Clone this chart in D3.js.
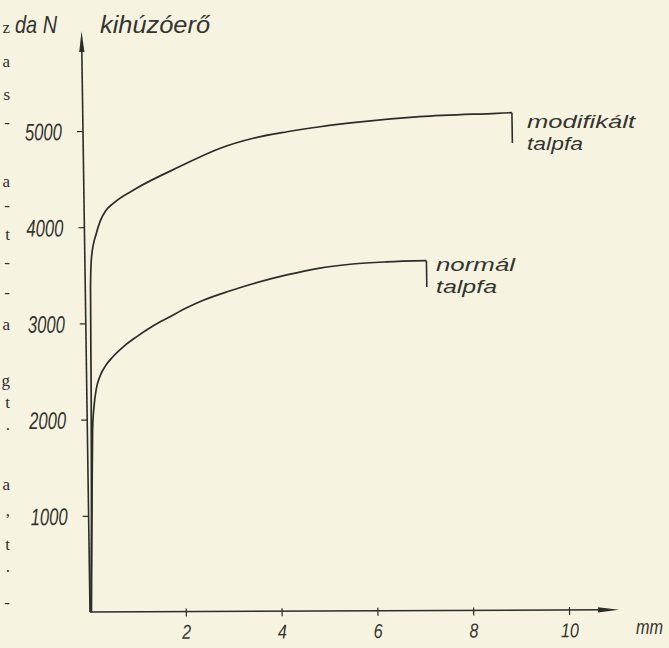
<!DOCTYPE html>
<html>
<head>
<meta charset="utf-8">
<script src="https://cdn.jsdelivr.net/npm/d3@7"></script>
<style>
html,body{margin:0;padding:0;background:#f6f4e0;}
svg{display:block;}
.lab{font-family:"Liberation Sans Narrow","Liberation Sans",Arial,sans-serif;font-style:italic;fill:#34342f;}
.frag{font-family:"Liberation Serif","DejaVu Serif",serif;fill:#2f2f2b;}
</style>
</head>
<body>
<svg id="chart" width="669" height="648"></svg>
<script>
// kihúzóerő (daN) - elmozdulás (mm), két talpfa-változat
const modX=[0.02,0.06,0.09,0.11,0.14,0.25,0.33,0.45,0.61,1.10,2.01,2.86,3.55,4.26,4.95,5.64,7.03,8.64,8.96]
const modY=[0,1000,2200,3380,3690,3940,4060,4170,4247,4402,4626,4815,4917,4983,5034,5075,5134,5166,5172]
const modEnd=4857 // vertical end mark
const normX=[0.03,0.07,0.11,0.15,0.20,0.28,0.40,0.56,0.80,1.06,1.40,1.76,2.10,2.46,3.01,3.50,4.21,4.90,5.59,6.29,7.13]
const normY=[0,1000,1892,2150,2320,2450,2560,2655,2765,2860,2970,3065,3155,3235,3330,3405,3495,3565,3606,3626,3637]
const normEnd=3364
const yTicks=[1000,2000,3000,4000,5000]
const xTicks=[2,4,6,8,10]
const modLabel=["modifikált","talpfa"]
const normLabel=["normál","talpfa"]
const yTitle=["da N","kihúzóerő"]
const xTitle="mm"
// cut-off letters of the book text on the left margin
const fragText=["z","a","s","-","a","-","t","-","-","a","g","t",".","a",",","t",".","-"]
const fragY=[33,67,100,128,187,211,240,268,298,330,386,408,430,490,516,550,572,608]

const ink="#2c2c28"
const svg=d3.select("#chart")

const x=d3.scaleLinear().domain([0,10]).range([0,479])
const y=d3.scaleLinear().domain([0,5000]).range([0,-481])

// the scan is slightly skewed: y axis leans left, x axis rises a little
const g=svg.append("g").attr("transform","matrix(1,-0.0042,0.0146,1,90,612)")

// axes
const yAx=g.append("g").call(d3.axisLeft(y).tickValues(yTicks).tickSize(6).tickPadding(15).tickFormat(d3.format("d")))
yAx.select(".domain").remove()
yAx.selectAll("line").attr("stroke",ink).attr("stroke-width",1.2)
yAx.selectAll("text").attr("class","lab").attr("font-size",24)
  .attr("textLength",37).attr("lengthAdjust","spacingAndGlyphs").attr("dy","0.36em")

const xAx=g.append("g").call(d3.axisBottom(x).tickValues(xTicks).tickSize(5).tickPadding(8))
xAx.select(".domain").remove()
xAx.selectAll("line").attr("y1",-3).attr("stroke",ink).attr("stroke-width",1.2)
xAx.selectAll("text").attr("class","lab").attr("font-size",20)
  .attr("textLength",d=>String(d).length*9).attr("lengthAdjust","spacingAndGlyphs")

g.append("line").attr("x1",0).attr("y1",0).attr("x2",0).attr("y2",-566)
  .attr("stroke",ink).attr("stroke-width",1.6)
g.append("path").attr("d","M0,-581L-2.6,-560L2.6,-560Z").attr("fill",ink)
g.append("line").attr("x1",0).attr("y1",0).attr("x2",514).attr("y2",0)
  .attr("stroke",ink).attr("stroke-width",1.5)
g.append("path").attr("d","M529,0L508,-2.6L508,2.6Z").attr("fill",ink)

// curves
const line=d3.line().x(d=>x(d[0])).y(d=>y(d[1])).curve(d3.curveMonotoneX)
const series=[
  {xs:modX,ys:modY,end:modEnd},
  {xs:normX,ys:normY,end:normEnd}
]
series.forEach(s=>{
  const pts=s.xs.map((v,i)=>[v,s.ys[i]])
  g.append("path").attr("d",line(pts)).attr("fill","none")
    .attr("stroke",ink).attr("stroke-width",1.7).attr("stroke-linejoin","round")
  const last=pts[pts.length-1]
  g.append("line").attr("x1",x(last[0])).attr("y1",y(last[1]))
    .attr("x2",x(last[0])).attr("y2",y(s.end))
    .attr("stroke",ink).attr("stroke-width",1.6)
})

// labels
const txt=(t,px,py,size,len)=>svg.append("text").attr("class","lab").attr("x",px).attr("y",py)
  .attr("font-size",size).attr("textLength",len).attr("lengthAdjust","spacingAndGlyphs").text(t)
txt(modLabel[0],527,128,19,108)
txt(modLabel[1],527,150,19,56)
txt(normLabel[0],436,271,19,79)
txt(normLabel[1],436,293,19,61)
txt(yTitle[0],15,33,24,42)
txt(yTitle[1],100,33,24,110)
txt(xTitle,636,634,20,27)

svg.append("g").selectAll("text").data(fragText).join("text")
  .attr("class","frag").attr("font-size",17).attr("text-anchor","end")
  .attr("x",10).attr("y",(d,i)=>fragY[i]).text(d=>d)
</script>
</body>
</html>
